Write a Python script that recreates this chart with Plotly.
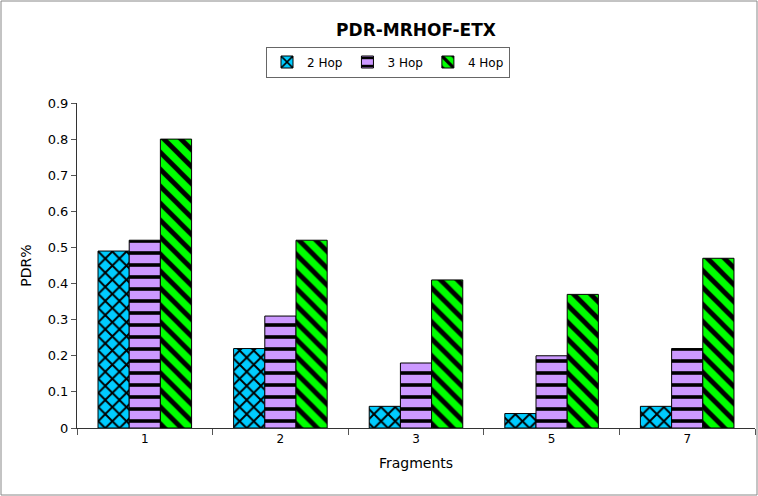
import plotly.graph_objects as go

# Packet delivery ratio per fragment count, for each hop distance
fragments = ["1", "2", "3", "5", "7"]
hop2 = [0.49, 0.22, 0.06, 0.04, 0.06]
hop3 = [0.52, 0.31, 0.18, 0.20, 0.22]
hop4 = [0.80, 0.52, 0.41, 0.37, 0.47]
y_ticks = [0, 0.1, 0.2, 0.3, 0.4, 0.5, 0.6, 0.7, 0.8, 0.9]

W, H = 758, 496
ML, MR, MT, MB = 77, 3, 103, 68
FONT = "DejaVu Sans"

series = [
    ("2 Hop", hop2, "#00CCFF", "x", 10, 0.35),
    ("3 Hop", hop3, "#CC99FF", "-", 12, 0.3),
    ("4 Hop", hop4, "#00FF00", "\\", 12, 0.4),
]

fig = go.Figure()
for name, vals, color, shape, size, solidity in series:
    fig.add_trace(go.Bar(
        name=name,
        x=fragments,
        y=vals,
        marker=dict(
            color=color,
            line=dict(color="black", width=1),
            pattern=dict(shape=shape, fgcolor="black", fgopacity=1,
                         bgcolor=color, size=size, solidity=solidity,
                         fillmode="replace"),
        ),
    ))

pw = W - ML - MR
ph = H - MT - MB
# light gray frame around the whole chart
fig.add_shape(
    type="rect", xref="paper", yref="paper",
    x0=-(ML - 1) / pw, x1=1 + (MR - 1) / pw,
    y0=-(MB - 1) / ph, y1=1 + (MT - 1) / ph,
    line=dict(color="#888888", width=1), fillcolor="rgba(0,0,0,0)",
    layer="below",
)

fig.update_layout(
    width=W, height=H,
    margin=dict(l=ML, r=MR, t=MT, b=MB),
    paper_bgcolor="white", plot_bgcolor="white",
    font=dict(family=FONT, size=13, color="black"),
    title=dict(text="<b>PDR-MRHOF-ETX</b>", x=0.5, xref="paper",
               y=1 - 30 / H, yanchor="middle",
               font=dict(family=FONT, size=17, color="black")),
    barmode="group",
    bargap=0.31, bargroupgap=0.0,
    legend=dict(orientation="h", x=(388 - ML) / pw, xanchor="center",
                y=1 + (MT - 62) / ph, yanchor="middle",
                bordercolor="#666666", borderwidth=1,
                font=dict(family=FONT, size=12), itemwidth=30,
                tracegroupgap=0),
    xaxis=dict(
        type="category", showline=True, linecolor="#333333", linewidth=1,
        ticks="outside", tickson="boundaries", ticklen=6, tickcolor="#555555",
        showgrid=False, tickfont=dict(size=12),
        title=dict(text="Fragments", font=dict(size=14), standoff=12),
    ),
    yaxis=dict(
        range=[0, 0.9], tickvals=y_ticks,
        ticktext=[f"{v:g}" for v in y_ticks],
        showline=True, linecolor="#333333", linewidth=1,
        ticks="outside", ticklen=5, tickcolor="#555555",
        showgrid=False, zeroline=False, tickfont=dict(size=13),
        title=dict(text="PDR%", font=dict(size=14), standoff=12),
    ),
)

fig.write_html("out.html")
